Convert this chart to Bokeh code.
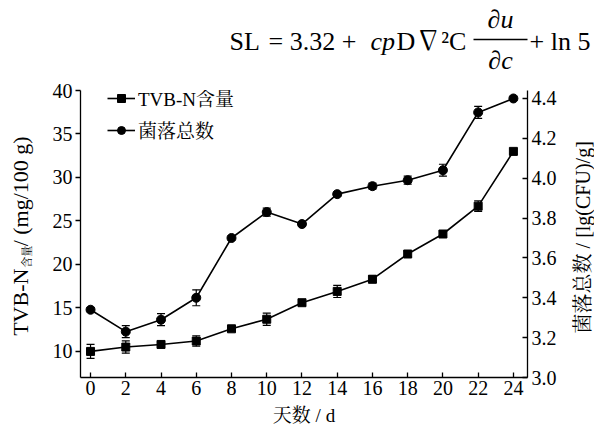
import math
from bokeh.plotting import figure
from bokeh.layouts import column, row
from bokeh.models import (Range1d, LinearAxis, Whisker, TeeHead, ColumnDataSource,
                          Legend, LegendItem, FixedTicker, PrintfTickFormatter)
from bokeh.core.properties import value
from bokeh.embed import file_html
from bokeh.resources import INLINE

days = [0, 2, 4, 6, 8, 10, 12, 14, 16, 18, 20, 22, 24]
tvbn = [10.0, 10.5, 10.8, 11.2, 12.6, 13.7, 15.6, 16.9, 18.3, 21.2, 23.5, 26.7, 33.0]
tvbn_err = [0.8, 0.7, 0.3, 0.6, 0.3, 0.7, 0.3, 0.7, 0.4, 0.3, 0.3, 0.6, 0.3]
colony = [3.34, 3.23, 3.29, 3.40, 3.70, 3.83, 3.77, 3.92, 3.96, 3.99, 4.04, 4.33, 4.40]
colony_err = [0.01, 0.03, 0.03, 0.04, 0.01, 0.02, 0.01, 0.01, 0.015, 0.02, 0.03, 0.03, 0.01]
x_ticks = list(range(0, 25, 2))
left_ticks = [10, 15, 20, 25, 30, 35, 40]
right_ticks = [3.0, 3.2, 3.4, 3.6, 3.8, 4.0, 4.2, 4.4]

SERIF = "'Liberation Serif', 'Noto Serif CJK SC', 'Noto Sans CJK SC'"
W, H = 594, 428
TOP_H = 80
LEFT_W = 36
RIGHT_W = 30
MAIN_W = W - LEFT_W - RIGHT_W
MAIN_H = H - TOP_H
ROT_FIX = 31  # rotated text in the side strips renders this many px higher


def strip(width, height, x0, x1, y_top, y_bot):
    # page-pixel coordinates; y is measured downward from the page top
    f = figure(width=width, height=height, output_backend="svg", toolbar_location=None,
               x_range=Range1d(x0, x1), y_range=Range1d(-y_bot, -y_top),
               x_axis_type=None, y_axis_type=None)
    f.min_border = 0
    f.outline_line_color = None
    f.xgrid.visible = False
    f.ygrid.visible = False
    f.border_fill_color = "white"
    f.background_fill_color = "white"
    return f


def txt(f, x, y, s, size, style="normal", align="left", angle=0.0):
    f.text(x=[x], y=[-y], text=[s], text_font=value(SERIF), text_font_size=value(size),
           text_font_style=style, text_align=align, text_baseline="middle",
           angle=angle, text_color="black")


# ---- formula strip above the chart ----
top = strip(W, TOP_H, 0, W, 0, TOP_H)
txt(top, 229, 41, "SL", "26px")
txt(top, 268, 41, "= 3.32 +", "26px")
txt(top, 370, 41, "cp", "26px", style="italic")
txt(top, 396, 41, "D\u2207\u00b2C", "26px")
txt(top, 500, 19, "\u2202u", "26px", style="italic", align="center")
top.segment(x0=[473], y0=[-39], x1=[527], y1=[-39], line_color="black", line_width=1.3)
txt(top, 500, 60, "\u2202c", "26px", style="italic", align="center")
txt(top, 529, 41, "+ ln 5", "26px")

# ---- main chart ----
p = figure(width=MAIN_W, height=MAIN_H, output_backend="svg", toolbar_location=None,
           x_range=Range1d(-0.57, 24.8), y_range=Range1d(7, 40))
p.min_border_left = 80 - LEFT_W
p.min_border_right = (LEFT_W + MAIN_W) - 527
p.min_border_top = 90 - TOP_H
p.min_border_bottom = H - 379
p.outline_line_color = None
p.xgrid.visible = False
p.ygrid.visible = False
p.background_fill_color = "white"
p.border_fill_color = "white"

p.extra_y_ranges = {"cfu": Range1d(3.0, 4.44)}

src1 = ColumnDataSource(dict(x=days, y=tvbn, lo=[a - b for a, b in zip(tvbn, tvbn_err)],
                             hi=[a + b for a, b in zip(tvbn, tvbn_err)]))
src2 = ColumnDataSource(dict(x=days, y=colony, lo=[a - b for a, b in zip(colony, colony_err)],
                             hi=[a + b for a, b in zip(colony, colony_err)]))

l1 = p.line("x", "y", source=src1, line_color="black", line_width=1.6)
m1 = p.scatter("x", "y", source=src1, marker="square", size=8, color="black")
l2 = p.line("x", "y", source=src2, line_color="black", line_width=1.6, y_range_name="cfu")
m2 = p.scatter("x", "y", source=src2, marker="circle", size=9, color="black", y_range_name="cfu")


def head():
    return TeeHead(size=8, line_color="black", line_width=1.2)


p.add_layout(Whisker(source=src1, base="x", upper="hi", lower="lo", line_color="black",
                     line_width=1.2, upper_head=head(), lower_head=head()))
p.add_layout(Whisker(source=src2, base="x", upper="hi", lower="lo", line_color="black",
                     line_width=1.2, y_range_name="cfu", upper_head=head(), lower_head=head()))


def style_axis(ax):
    ax.axis_line_color = "black"
    ax.axis_line_width = 1.3
    ax.major_tick_line_color = "black"
    ax.major_tick_line_width = 1.3
    ax.minor_tick_line_color = None
    ax.major_label_text_font = SERIF
    ax.major_label_text_font_size = "20px"
    ax.major_label_text_color = "black"
    ax.axis_label_text_font = SERIF
    ax.axis_label_text_font_size = "19px"
    ax.axis_label_text_font_style = "normal"
    ax.axis_label_text_color = "black"


xa = p.xaxis[0]
style_axis(xa)
xa.ticker = FixedTicker(ticks=x_ticks)
xa.major_tick_in = 5
xa.major_tick_out = 0
xa.axis_label = "天数 / d"
xa.major_label_standoff = 3
xa.axis_label_standoff = 7

ya = p.yaxis[0]
style_axis(ya)
ya.ticker = FixedTicker(ticks=left_ticks)
ya.major_tick_in = 0
ya.major_tick_out = 5
ya.major_label_standoff = 3

ra = LinearAxis(y_range_name="cfu")
style_axis(ra)
ra.ticker = FixedTicker(ticks=right_ticks)
ra.formatter = PrintfTickFormatter(format="%.1f")
ra.major_tick_in = 5
ra.major_tick_out = 0
ra.major_label_standoff = 4
p.add_layout(ra, "right")

legend = Legend(items=[LegendItem(label="TVB-N含量", renderers=[l1, m1]),
                       LegendItem(label="菌落总数", renderers=[l2, m2])],
                location=(27, 234))
legend.label_text_font = SERIF
legend.label_text_font_size = "19px"
legend.label_text_color = "black"
legend.border_line_color = None
legend.background_fill_alpha = 0
legend.glyph_width = 28
legend.glyph_height = 20
legend.label_height = 20
legend.label_standoff = 3
legend.spacing = 5
legend.padding = 0
legend.margin = 0
p.add_layout(legend)

# ---- left strip: axis title with subscript (reads upward) ----
up = math.pi / 2
left = strip(LEFT_W, MAIN_H, 0, LEFT_W, TOP_H, H)
txt(left, 20, 265 + ROT_FIX, "TVB-N", "22px", align="right", angle=up)
txt(left, 26, 264 + ROT_FIX, "含量", "11px", align="left", angle=up)
txt(left, 20, 238 + ROT_FIX, "/ (mg/100 g)", "22px", align="left", angle=up)

# ---- right strip: axis title (reads upward) ----
right = strip(RIGHT_W, MAIN_H, W - RIGHT_W, W, TOP_H, H)
txt(right, 582, 227 + ROT_FIX, "菌落总数 / [lg(CFU)/g]", "20px", align="center", angle=up)

layout = column(top, row(left, p, right))
open("out.html", "w").write(file_html(layout, INLINE))
